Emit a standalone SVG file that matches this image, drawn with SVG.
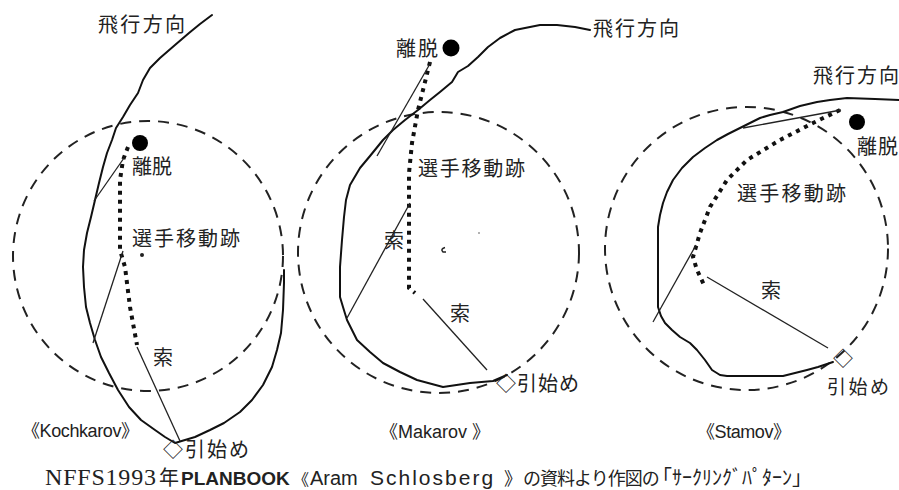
<svg xmlns="http://www.w3.org/2000/svg" width="899" height="490" viewBox="0 0 899 490">
<style>
.ring{fill:none;stroke:#222;stroke-width:2;stroke-dasharray:11 8}
.flight{fill:none;stroke:#111;stroke-width:2;stroke-linejoin:round;stroke-linecap:round}
.rope{fill:none;stroke:#222;stroke-width:1.3}
.track{fill:none;stroke:#111;stroke-width:4;stroke-dasharray:4 5}
.jp{font-family:"Noto Sans CJK JP",sans-serif;font-size:20px;fill:#222}
.en{font-family:"Liberation Sans","Noto Sans CJK JP",sans-serif;font-size:18px;fill:#222}
.dot{fill:#000}
.cj{font-family:"Noto Sans CJK JP",sans-serif}
.ls{font-family:"Liberation Sans",sans-serif}
</style>
<rect width="899" height="490" fill="#fff"/>

<g id="panel-kochkarov">
  <g id="k-circle"><circle class="ring" cx="148" cy="256" r="135"/><circle cx="142" cy="255" r="2" fill="#222"/></g>
  <g id="k-connectors">
    <path class="flight" d="M212,15 L200,24 L189,33 L175,45 L160,58 L150,68 L143,80 L138,93 L130,105 L123,117 L116,128 L112,140 L107,153 L103,167 L99,183 L95,200 L91,217 L87,233 L84,250 L83,267 L84,287 L86,307 L90,323 L95,340 L101,357 L109,373 L118,390 L129,407 L141,420 L155,430 L165,437 L175,443 L185,440 L195,437 L210,430 L224,423 L240,412 L252,400 L263,385 L272,367 L277,350 L281,333 L283,310 L284,283 L284,270"/>
    <path class="track" d="M128,147 L123,160 L120,180 L120,250 L125,267 L130,307 L137,345"/>
    <path class="rope" d="M124,158 L94,201"/>
    <path class="rope" d="M123,251 L93,343"/>
    <path class="rope" d="M137,347 L180,441"/>
  </g>
  <g id="k-takeoff"><circle class="dot" cx="140" cy="143" r="8"/><text class="jp" x="132" y="174" textLength="40">離脱</text></g>
  <text class="jp" x="98" y="32" textLength="87">飛行方向</text>
  <text class="jp" x="132" y="246" textLength="108">選手移動跡</text>
  <text class="jp" x="153" y="365">索</text>
  <g id="k-start"><text class="jp" x="163" y="457" textLength="86">◇引始め</text></g>
  <text class="en" x="22" y="437" textLength="117">《Kochkarov》</text>
</g>

<g id="panel-makarov">
  <g id="m-circle"><circle class="ring" cx="438.5" cy="252.5" r="140.5"/><path d="M445,247.5 Q440,249 443,252 L446,252" fill="none" stroke="#222" stroke-width="1.5"/><circle cx="479" cy="233" r="1" fill="#999"/></g>
  <g id="m-connectors">
    <path class="flight" d="M590,30 L575,27 L557,25 L540,25 L530,27 L515,30 L500,38 L488,47 L478,57 L468,66 L458,72 L452,82 L440,92 L430,100 L418,110 L405,120 L393,130 L383,140 L370,156 L360,168 L350,185 L346,200 L344,217 L342,240 L340,267 L340,297 L343,307 L347,320 L357,340 L370,352 L383,363 L400,372 L417,380 L443,387 L470,383 L493,381 L507,375"/>
    <path class="track" d="M430,62 L418,110 L412,143 L409,173 L409,250 L409,288 L415,293"/>
    <path class="rope" d="M431,62 L377,156"/>
    <path class="rope" d="M410,203 L347,318"/>
    <path class="rope" d="M423,299 L487,370"/>
  </g>
  <g id="m-takeoff"><circle class="dot" cx="451" cy="48" r="8.5"/><text class="jp" x="396" y="56" textLength="42">離脱</text></g>
  <text class="jp" x="593" y="36" textLength="86">飛行方向</text>
  <text class="jp" x="418" y="176" textLength="107">選手移動跡</text>
  <text class="jp" x="384" y="248">索</text>
  <text class="jp" x="450" y="321">索</text>
  <g id="m-start"><text class="jp" x="496" y="391" textLength="83">◇引始め</text></g>
  <text class="en" x="380" y="438" textLength="110">《Makarov 》</text>
</g>

<g id="panel-stamov">
  <g id="s-circle"><circle class="ring" cx="746.5" cy="248.5" r="141.5"/></g>
  <g id="s-connectors">
    <path class="flight" d="M900,100 L875,99 L847,98 L830,100 L817,102 L800,106 L783,112 L770,115 L760,118 L750,123 L740,128 L728,134 L717,140 L705,148 L693,157 L682,168 L673,180 L667,192 L663,203 L660,215 L658,227 L658,260 L658,290 L658,307 L661,316 L665,323 L672,330 L680,337 L690,343 L697,350 L705,360 L712,370 L720,375 L727,376 L750,376 L783,376 L795,373 L807,370 L818,367 L833,362"/>
    <path class="track" d="M840,110 L813,123 L780,140 L747,160 L727,180 L710,207 L700,233 L693,257 L697,270 L705,287"/>
    <path class="rope" d="M841,110 L743,128"/>
    <path class="rope" d="M696,245 L653,322"/>
    <path class="rope" d="M707,277 L828,348"/>
  </g>
  <g id="s-takeoff"><circle class="dot" cx="857" cy="122" r="8"/><text class="jp" x="857" y="154" textLength="41">離脱</text></g>
  <text class="jp" x="813" y="83" textLength="86">飛行方向</text>
  <text class="jp" x="737" y="201" textLength="109">選手移動跡</text>
  <text class="jp" x="761" y="298">索</text>
  <g id="s-start"><text class="jp" x="833" y="366">◇</text><text class="jp" x="827" y="394" style="font-size:19px" textLength="62">引始め</text></g>
  <text class="en" x="697" y="438" textLength="94">《Stamov》</text>
</g>

<g id="caption">
  <text y="485" fill="#222"><tspan x="45" font-family="Liberation Serif,serif" font-size="24" letter-spacing="0.8">NFFS1993</tspan><tspan x="159" class="cj" font-size="20">年</tspan><tspan x="181" class="ls" font-weight="bold" font-size="19">PLANBOOK</tspan><tspan x="293" class="cj" font-size="16">《</tspan><tspan x="310" class="ls" font-size="20">Aram</tspan><tspan x="370" class="ls" font-size="21" letter-spacing="2">Schlosberg</tspan><tspan x="504" class="cj" font-size="18">》</tspan><tspan x="523" class="cj" font-size="18" letter-spacing="-1">の資料より作図の</tspan><tspan x="662" class="cj" font-size="20">｢ｻｰｸﾘﾝｸﾞﾊﾟﾀｰﾝ｣</tspan></text>
</g>
</svg>
